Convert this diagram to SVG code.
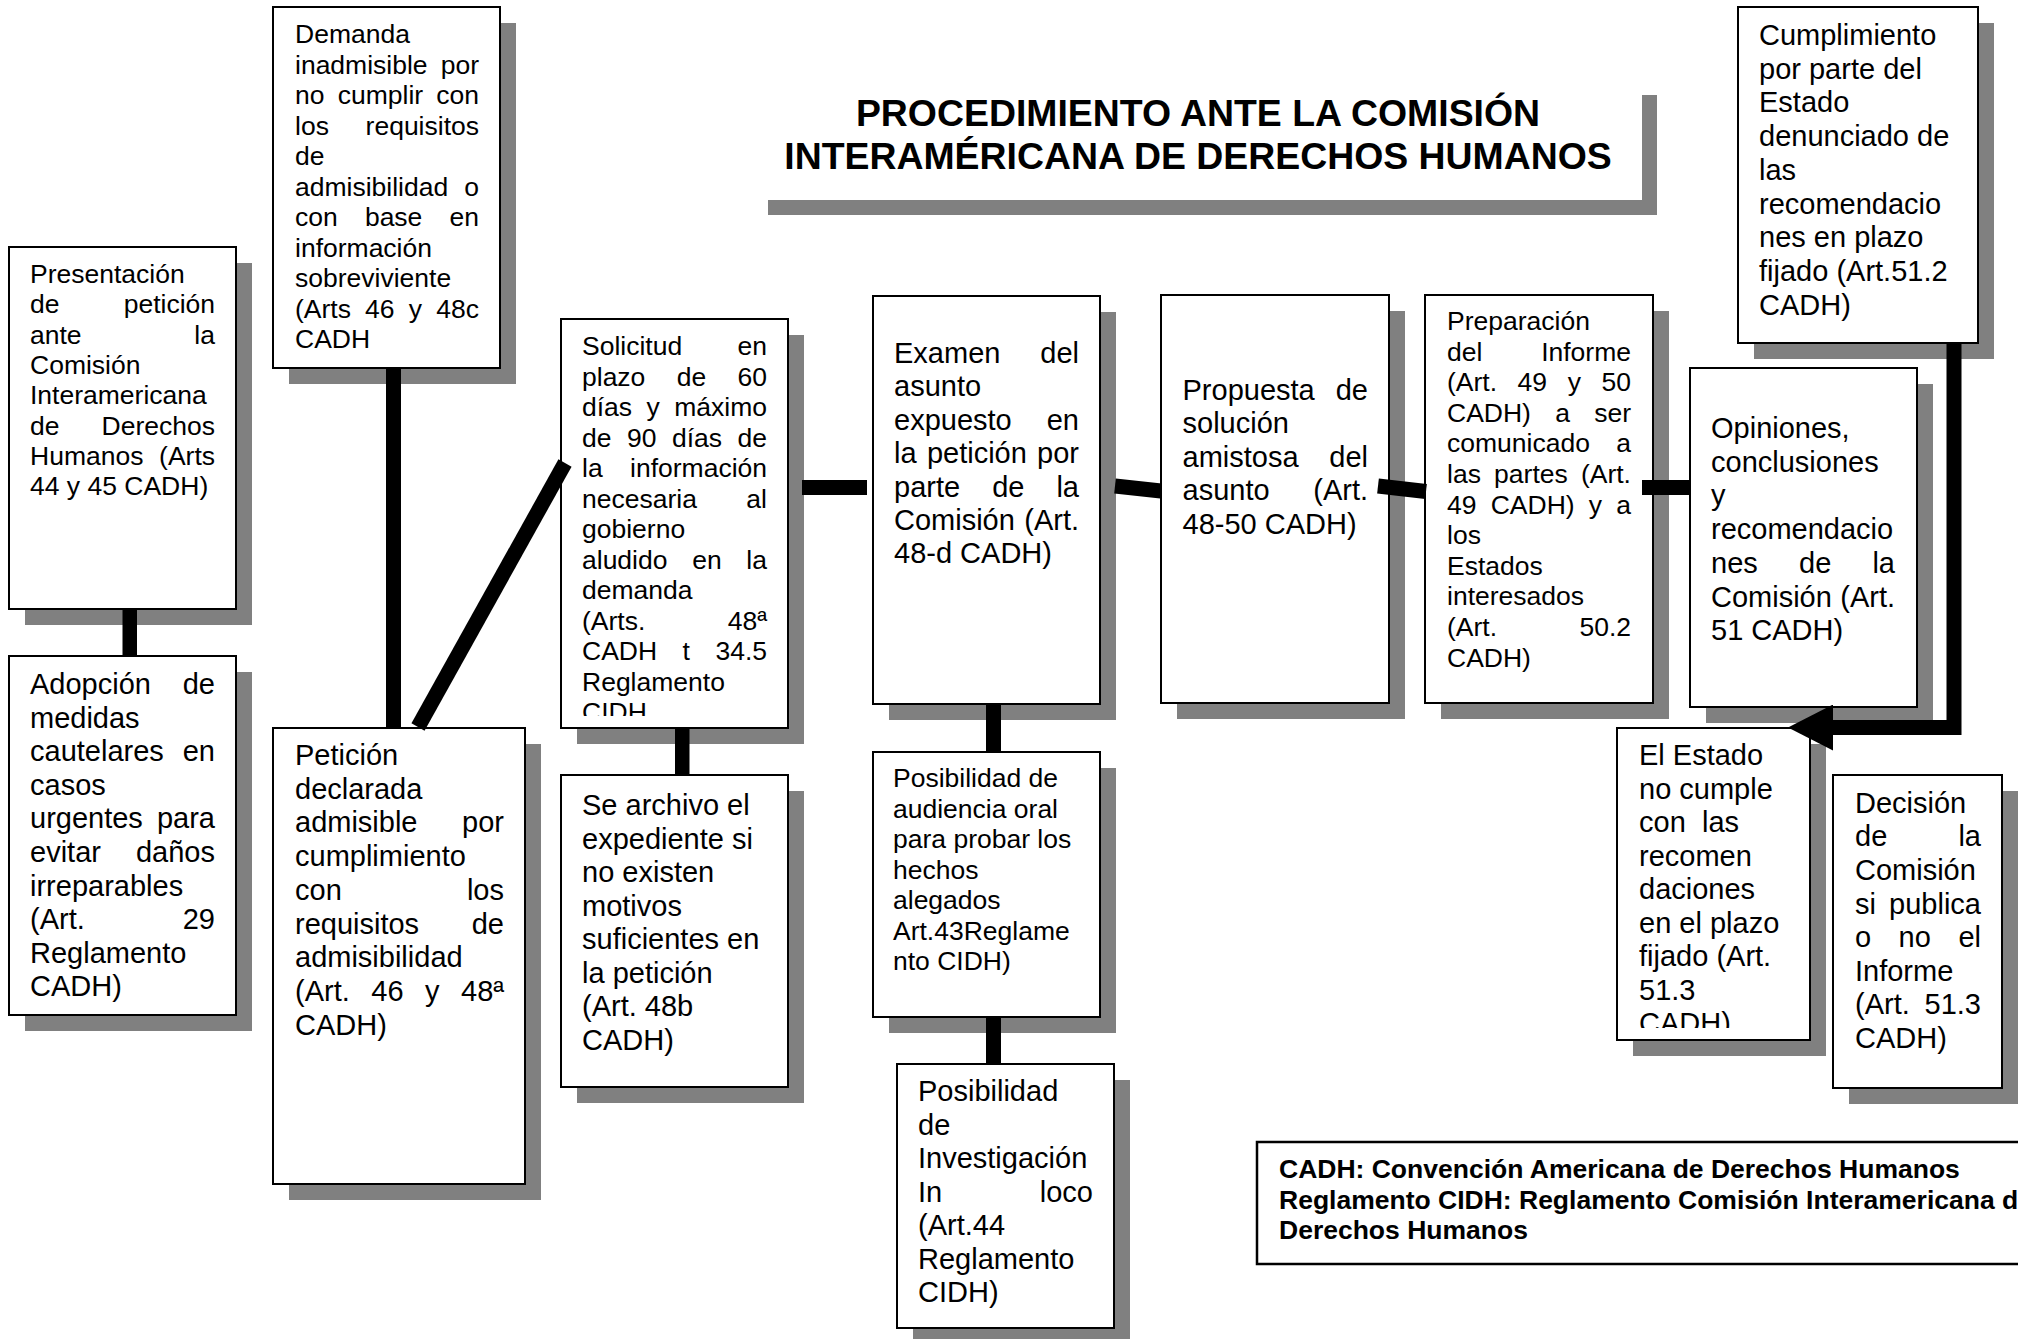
<svg xmlns="http://www.w3.org/2000/svg" width="2018" height="1339" viewBox="0 0 2018 1339">
<style>
.bg{fill:#fff}
.box{fill:#fff;stroke:#000;stroke-width:2}
.sh{fill:#808080}
.t1{font-family:"Liberation Sans",Arial,sans-serif;font-size:26.5px;fill:#000}
.t2{font-family:"Liberation Sans",Arial,sans-serif;font-size:29px;fill:#000}
.tb{font-family:"Liberation Sans",Arial,sans-serif;font-weight:bold;fill:#000}
.e{text-anchor:end}
.bar{fill:#000}
.ln{stroke:#000;stroke-width:15;fill:none}
</style>
<defs>
<clipPath id="clipSol"><rect x="561" y="319" width="227" height="397"/></clipPath>
<clipPath id="clipEst"><rect x="1617" y="728" width="193" height="300"/></clipPath>
<marker id="arrow" markerUnits="userSpaceOnUse" markerWidth="46" markerHeight="46" viewBox="0 0 45 46" refX="0" refY="23" orient="auto">
<path d="M0,0 L45,23 L0,46 z" fill="#000"/>
</marker>
</defs>
<rect class="bg" x="0" y="0" width="2018" height="1339"/>

<g id="title">
<rect class="sh" x="768" y="95" width="889" height="120"/>
<rect class="bg" x="753" y="80" width="889" height="120"/>
<text class="tb" font-size="37.4" text-anchor="middle"><tspan x="1198" y="126">PROCEDIMIENTO ANTE LA COMISIÓN</tspan><tspan x="1198" y="169">INTERAMÉRICANA DE DERECHOS HUMANOS</tspan></text>
</g>

<g id="n-presentacion">
<rect class="sh" x="25" y="263" width="227" height="362"/>
<rect class="box" x="9" y="247" width="227" height="362"/>
<text class="t1"><tspan x="30" y="283">Presentación</tspan><tspan x="30" y="313">de</tspan><tspan class="e" x="215" y="313">petición</tspan><tspan x="30" y="344">ante</tspan><tspan class="e" x="215" y="344">la</tspan><tspan x="30" y="374">Comisión</tspan><tspan x="30" y="404">Interamericana</tspan><tspan x="30" y="435">de</tspan><tspan class="e" x="215" y="435">Derechos</tspan><tspan x="30" y="465">Humanos</tspan><tspan class="e" x="215" y="465">(Arts</tspan><tspan x="30" y="495">44 y 45 CADH)</tspan></text>
</g>

<g id="n-adopcion">
<rect class="sh" x="25" y="672" width="227" height="359"/>
<rect class="box" x="9" y="656" width="227" height="359"/>
<text class="t2"><tspan x="30" y="694">Adopción</tspan><tspan class="e" x="215" y="694">de</tspan><tspan x="30" y="727.6">medidas</tspan><tspan x="30" y="761.2">cautelares</tspan><tspan class="e" x="215" y="761.2">en</tspan><tspan x="30" y="794.8">casos</tspan><tspan x="30" y="828.4">urgentes</tspan><tspan class="e" x="215" y="828.4">para</tspan><tspan x="30" y="862">evitar</tspan><tspan class="e" x="215" y="862">daños</tspan><tspan x="30" y="895.6">irreparables</tspan><tspan x="30" y="929.2">(Art.</tspan><tspan class="e" x="215" y="929.2">29</tspan><tspan x="30" y="962.8">Reglamento</tspan><tspan x="30" y="996.4">CADH)</tspan></text>
</g>

<g id="n-demanda">
<rect class="sh" x="289" y="23" width="227" height="361"/>
<rect class="box" x="273" y="7" width="227" height="361"/>
<text class="t1"><tspan x="295" y="43">Demanda</tspan><tspan x="295" y="73.5">inadmisible</tspan><tspan class="e" x="479" y="73.5">por</tspan><tspan x="295" y="104">no</tspan><tspan x="337.7" y="104">cumplir</tspan><tspan class="e" x="479" y="104">con</tspan><tspan x="295" y="134.5">los</tspan><tspan class="e" x="479" y="134.5">requisitos</tspan><tspan x="295" y="165">de</tspan><tspan x="295" y="195.5">admisibilidad</tspan><tspan class="e" x="479" y="195.5">o</tspan><tspan x="295" y="226">con</tspan><tspan x="364.9" y="226">base</tspan><tspan class="e" x="479" y="226">en</tspan><tspan x="295" y="256.5">información</tspan><tspan x="295" y="287">sobreviviente</tspan><tspan x="295" y="317.5">(Arts</tspan><tspan x="365.1" y="317.5">46</tspan><tspan x="408.8" y="317.5">y</tspan><tspan class="e" x="479" y="317.5">48c</tspan><tspan x="295" y="348">CADH</tspan></text>
</g>

<g id="n-peticion">
<rect class="sh" x="289" y="744" width="252" height="456"/>
<rect class="box" x="273" y="728" width="252" height="456"/>
<text class="t2"><tspan x="295" y="765">Petición</tspan><tspan x="295" y="798.7">declarada</tspan><tspan x="295" y="832.4">admisible</tspan><tspan class="e" x="504" y="832.4">por</tspan><tspan x="295" y="866.1">cumplimiento</tspan><tspan x="295" y="899.8">con</tspan><tspan class="e" x="504" y="899.8">los</tspan><tspan x="295" y="933.5">requisitos</tspan><tspan class="e" x="504" y="933.5">de</tspan><tspan x="295" y="967.2">admisibilidad</tspan><tspan x="295" y="1000.9">(Art.</tspan><tspan x="371.3" y="1000.9">46</tspan><tspan x="425" y="1000.9">y</tspan><tspan class="e" x="504" y="1000.9">48ª</tspan><tspan x="295" y="1034.6">CADH)</tspan></text>
</g>

<g id="n-solicitud">
<rect class="sh" x="577" y="335" width="227" height="409"/>
<rect class="box" x="561" y="319" width="227" height="409"/>
<text class="t1" clip-path="url(#clipSol)"><tspan x="582" y="355">Solicitud</tspan><tspan class="e" x="767" y="355">en</tspan><tspan x="582" y="385.5">plazo</tspan><tspan x="676.7" y="385.5">de</tspan><tspan class="e" x="767" y="385.5">60</tspan><tspan x="582" y="416">días</tspan><tspan x="646.6" y="416">y</tspan><tspan class="e" x="767" y="416">máximo</tspan><tspan x="582" y="446.5">de</tspan><tspan x="627" y="446.5">90</tspan><tspan x="672" y="446.5">días</tspan><tspan class="e" x="767" y="446.5">de</tspan><tspan x="582" y="477">la</tspan><tspan class="e" x="767" y="477">información</tspan><tspan x="582" y="507.5">necesaria</tspan><tspan class="e" x="767" y="507.5">al</tspan><tspan x="582" y="538">gobierno</tspan><tspan x="582" y="568.5">aludido</tspan><tspan x="692.2" y="568.5">en</tspan><tspan class="e" x="767" y="568.5">la</tspan><tspan x="582" y="599">demanda</tspan><tspan x="582" y="629.5">(Arts.</tspan><tspan class="e" x="767" y="629.5">48ª</tspan><tspan x="582" y="660">CADH</tspan><tspan x="682.6" y="660">t</tspan><tspan class="e" x="767" y="660">34.5</tspan><tspan x="582" y="690.5">Reglamento</tspan><tspan x="582" y="721">CIDH</tspan></text>
</g>

<g id="n-archivo">
<rect class="sh" x="577" y="791" width="227" height="312"/>
<rect class="box" x="561" y="775" width="227" height="312"/>
<text class="t2"><tspan x="582" y="815">Se archivo el</tspan><tspan x="582" y="848.5">expediente si</tspan><tspan x="582" y="882">no existen</tspan><tspan x="582" y="915.5">motivos</tspan><tspan x="582" y="949">suficientes en</tspan><tspan x="582" y="982.5">la petición</tspan><tspan x="582" y="1016">(Art. 48b</tspan><tspan x="582" y="1049.5">CADH)</tspan></text>
</g>

<g id="n-examen">
<rect class="sh" x="889" y="312" width="227" height="408"/>
<rect class="box" x="873" y="296" width="227" height="408"/>
<text class="t2"><tspan x="894" y="363">Examen</tspan><tspan class="e" x="1079" y="363">del</tspan><tspan x="894" y="396.4">asunto</tspan><tspan x="894" y="429.8">expuesto</tspan><tspan class="e" x="1079" y="429.8">en</tspan><tspan x="894" y="463.2">la</tspan><tspan x="926.9" y="463.2">petición</tspan><tspan class="e" x="1079" y="463.2">por</tspan><tspan x="894" y="496.6">parte</tspan><tspan x="992.2" y="496.6">de</tspan><tspan class="e" x="1079" y="496.6">la</tspan><tspan x="894" y="530">Comisión</tspan><tspan class="e" x="1079" y="530">(Art.</tspan><tspan x="894" y="563.4">48-d CADH)</tspan></text>
</g>

<g id="n-audiencia">
<rect class="sh" x="889" y="768" width="227" height="265"/>
<rect class="box" x="873" y="752" width="227" height="265"/>
<text class="t1"><tspan x="893" y="787">Posibilidad de</tspan><tspan x="893" y="817.5">audiencia oral</tspan><tspan x="893" y="848">para probar los</tspan><tspan x="893" y="878.5">hechos</tspan><tspan x="893" y="909">alegados</tspan><tspan x="893" y="939.5">Art.43Reglame</tspan><tspan x="893" y="970">nto CIDH)</tspan></text>
</g>

<g id="n-investigacion">
<rect class="sh" x="913" y="1080" width="217" height="264"/>
<rect class="box" x="897" y="1064" width="217" height="264"/>
<text class="t2"><tspan x="918" y="1101">Posibilidad</tspan><tspan x="918" y="1134.5">de</tspan><tspan x="918" y="1168">Investigación</tspan><tspan x="918" y="1201.5">In</tspan><tspan class="e" x="1093" y="1201.5">loco</tspan><tspan x="918" y="1235">(Art.44</tspan><tspan x="918" y="1268.5">Reglamento</tspan><tspan x="918" y="1302">CIDH)</tspan></text>
</g>

<g id="n-propuesta">
<rect class="sh" x="1177" y="311" width="228" height="408"/>
<rect class="box" x="1161" y="295" width="228" height="408"/>
<text class="t2"><tspan x="1182.5" y="400">Propuesta</tspan><tspan class="e" x="1368" y="400">de</tspan><tspan x="1182.5" y="433.4">solución</tspan><tspan x="1182.5" y="466.8">amistosa</tspan><tspan class="e" x="1368" y="466.8">del</tspan><tspan x="1182.5" y="500.2">asunto</tspan><tspan class="e" x="1368" y="500.2">(Art.</tspan><tspan x="1182.5" y="533.6">48-50 CADH)</tspan></text>
</g>

<g id="n-preparacion">
<rect class="sh" x="1441" y="311" width="228" height="408"/>
<rect class="box" x="1425" y="295" width="228" height="408"/>
<text class="t1"><tspan x="1447" y="330">Preparación</tspan><tspan x="1447" y="360.6">del</tspan><tspan class="e" x="1631" y="360.6">Informe</tspan><tspan x="1447" y="391.2">(Art.</tspan><tspan x="1517.6" y="391.2">49</tspan><tspan x="1567.7" y="391.2">y</tspan><tspan class="e" x="1631" y="391.2">50</tspan><tspan x="1447" y="421.8">CADH)</tspan><tspan x="1555.2" y="421.8">a</tspan><tspan class="e" x="1631" y="421.8">ser</tspan><tspan x="1447" y="452.4">comunicado</tspan><tspan class="e" x="1631" y="452.4">a</tspan><tspan x="1447" y="483">las</tspan><tspan x="1494.1" y="483">partes</tspan><tspan class="e" x="1631" y="483">(Art.</tspan><tspan x="1447" y="513.6">49</tspan><tspan x="1490.7" y="513.6">CADH)</tspan><tspan x="1588.8" y="513.6">y</tspan><tspan class="e" x="1631" y="513.6">a</tspan><tspan x="1447" y="544.2">los</tspan><tspan x="1447" y="574.8">Estados</tspan><tspan x="1447" y="605.4">interesados</tspan><tspan x="1447" y="636">(Art.</tspan><tspan class="e" x="1631" y="636">50.2</tspan><tspan x="1447" y="666.6">CADH)</tspan></text>
</g>

<g id="n-opiniones">
<rect class="sh" x="1706" y="384" width="227" height="339"/>
<rect class="box" x="1690" y="368" width="227" height="339"/>
<text class="t2"><tspan x="1711" y="438">Opiniones,</tspan><tspan x="1711" y="471.7">conclusiones</tspan><tspan x="1711" y="505.4">y</tspan><tspan x="1711" y="539.1">recomendacio</tspan><tspan x="1711" y="572.8">nes</tspan><tspan x="1799" y="572.8">de</tspan><tspan class="e" x="1895" y="572.8">la</tspan><tspan x="1711" y="606.5">Comisión</tspan><tspan class="e" x="1895" y="606.5">(Art.</tspan><tspan x="1711" y="640.2">51 CADH)</tspan></text>
</g>

<g id="n-cumplimiento">
<rect class="sh" x="1754" y="23" width="240" height="336"/>
<rect class="box" x="1738" y="7" width="240" height="336"/>
<text class="t2"><tspan x="1759" y="45">Cumplimiento</tspan><tspan x="1759" y="78.7">por parte del</tspan><tspan x="1759" y="112.4">Estado</tspan><tspan x="1759" y="146.1">denunciado de</tspan><tspan x="1759" y="179.8">las</tspan><tspan x="1759" y="213.5">recomendacio</tspan><tspan x="1759" y="247.2">nes en plazo</tspan><tspan x="1759" y="280.9">fijado (Art.51.2</tspan><tspan x="1759" y="314.6">CADH)</tspan></text>
</g>

<g id="n-estado">
<rect class="sh" x="1633" y="744" width="193" height="312"/>
<rect class="box" x="1617" y="728" width="193" height="312"/>
<text class="t2" clip-path="url(#clipEst)"><tspan x="1639" y="765">El Estado</tspan><tspan x="1639" y="798.5">no cumple</tspan><tspan x="1639" y="832">con</tspan><tspan x="1702" y="832">las</tspan><tspan x="1639" y="865.5">recomen</tspan><tspan x="1639" y="899">daciones</tspan><tspan x="1639" y="932.5">en el plazo</tspan><tspan x="1639" y="966">fijado (Art.</tspan><tspan x="1639" y="999.5">51.3</tspan><tspan x="1639" y="1033">CADH)</tspan></text>
</g>

<g id="n-decision">
<rect class="sh" x="1849" y="791" width="169" height="313"/>
<rect class="box" x="1833" y="775" width="169" height="313"/>
<text class="t2"><tspan x="1855" y="813">Decisión</tspan><tspan x="1855" y="846.3">de</tspan><tspan class="e" x="1981" y="846.3">la</tspan><tspan x="1855" y="879.9">Comisión</tspan><tspan x="1855" y="913.5">si</tspan><tspan class="e" x="1981" y="913.5">publica</tspan><tspan x="1855" y="947.1">o</tspan><tspan x="1898.6" y="947.1">no</tspan><tspan class="e" x="1981" y="947.1">el</tspan><tspan x="1855" y="980.7">Informe</tspan><tspan x="1855" y="1014.3">(Art.</tspan><tspan class="e" x="1981" y="1014.3">51.3</tspan><tspan x="1855" y="1047.9">CADH)</tspan></text>
</g>

<g id="legend">
<rect x="1257" y="1142" width="800" height="122" fill="#fff" stroke="#000" stroke-width="2.5"/>
<text class="tb" font-size="26.5"><tspan x="1279" y="1178">CADH: Convención Americana de Derechos Humanos</tspan><tspan x="1279" y="1208.5">Reglamento CIDH: Reglamento Comisión Interamericana de</tspan><tspan x="1279" y="1239">Derechos Humanos</tspan></text>
</g>

<g id="connectors">
<rect class="bar" x="122.5" y="609" width="14.5" height="47"/>
<rect class="bar" x="386" y="368" width="15" height="360"/>
<line class="ln" x1="418" y1="727" x2="565" y2="463"/>
<rect class="bar" x="802" y="480" width="65" height="15"/>
<rect class="bar" x="675" y="728" width="14.5" height="47"/>
<rect class="bar" x="986" y="704" width="15" height="48"/>
<rect class="bar" x="986" y="1017" width="15" height="47"/>
<line class="ln" x1="1115" y1="486" x2="1161" y2="491" stroke-width="14"/>
<line class="ln" x1="1378" y1="486" x2="1426" y2="491.5" stroke-width="14"/>
<rect class="bar" x="1642" y="480" width="48" height="15"/>
<path class="ln" d="M1954,343 V727.5 H1833" stroke-linejoin="miter" marker-end="url(#arrow)"/>
</g>
</svg>
